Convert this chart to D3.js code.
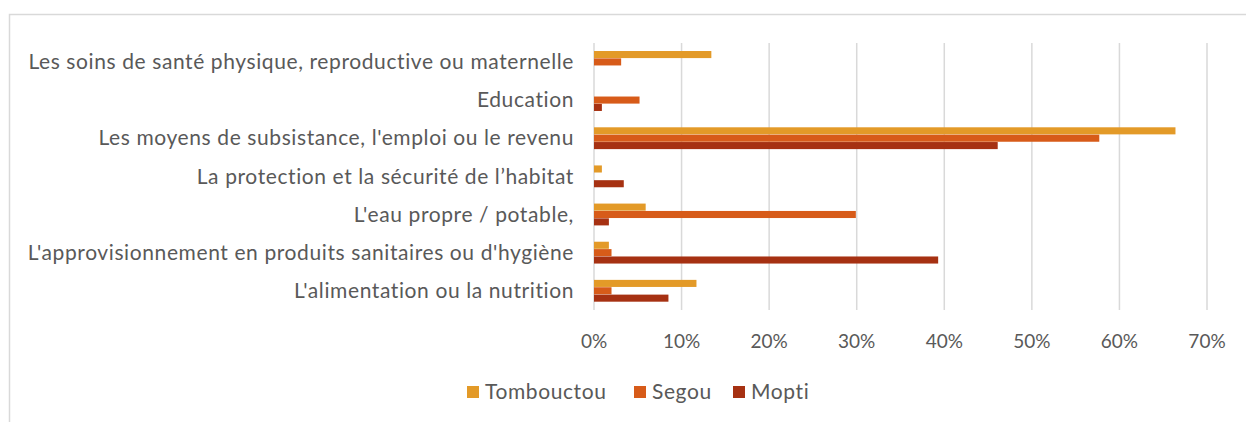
<!DOCTYPE html>
<html lang="fr">
<head>
<meta charset="utf-8">
<title>Besoins prioritaires</title>
<script src="https://cdn.jsdelivr.net/npm/d3@7"></script>
<style>
    body { margin: 0; background: #fff; }
    svg { display: block; }
    text { font-family: Lato, "Open Sans", sans-serif; fill: #595959; }
</style>
</head>
<body>
<div id="chart"></div>
<script>
    // categories, top to bottom
    var categories = [
        "Les soins de santé physique, reproductive ou maternelle",
        "Education",
        "Les moyens de subsistance, l'emploi ou le revenu",
        "La protection et la sécurité de l\u2019habitat",
        "L'eau propre / potable,",
        "L'approvisionnement en produits sanitaires ou d'hygiène",
        "L'alimentation ou la nutrition"
    ];
    var seriesNames = ["Tombouctou", "Segou", "Mopti"];
    var colors = ["#E39A28", "#D75B19", "#A63112"];

    // values in %, same order as categories
    var tombouctou = [13.4, 0, 66.4, 0.9, 5.9, 1.7, 11.7];
    var segou      = [3.1, 5.2, 57.7, 0, 29.9, 2.0, 2.0];
    var mopti      = [0, 0.9, 46.1, 3.4, 1.7, 39.3, 8.5];
    var values = [tombouctou, segou, mopti];

    var xTicks = [0, 10, 20, 30, 40, 50, 60, 70];

    var width = 1246, height = 422;

    var svg = d3.select("#chart").append("svg")
        .attr("width", width)
        .attr("height", height);

    // outer frame
    svg.append("rect")
        .attr("x", 9.5).attr("y", 14.5)
        .attr("width", width + 20).attr("height", height + 20)
        .style("fill", "none")
        .style("stroke", "#D9D9D9")
        .style("stroke-width", 1.5);

    var x = d3.scaleLinear().domain([0, 70]).range([594, 1207]);
    var y = d3.scaleBand().domain(categories).range([43, 310])
        .paddingInner(0.42).paddingOuter(0.21);
    var ySub = d3.scaleBand().domain(seriesNames).range([0, y.bandwidth()]);

    // gridlines
    svg.append("g").selectAll("line")
        .data(xTicks)
        .enter().append("line")
        .attr("x1", function(d) { return x(d); })
        .attr("x2", function(d) { return x(d); })
        .attr("y1", 43)
        .attr("y2", 310)
        .style("stroke", "#D9D9D9")
        .style("stroke-width", 1.5);

    // x tick labels
    svg.append("g").selectAll("text")
        .data(xTicks)
        .enter().append("text")
        .attr("x", function(d) { return x(d); })
        .attr("y", 348)
        .attr("text-anchor", "middle")
        .style("font-size", "19px")
        .text(function(d) { return d + "%"; });

    // category labels
    svg.append("g").selectAll("text")
        .data(categories)
        .enter().append("text")
        .attr("x", 574)
        .attr("y", function(d) { return y(d) + y.bandwidth() / 2 + 7; })
        .attr("text-anchor", "end")
        .style("font-size", "21px")
        .style("letter-spacing", "0.6px")
        .text(function(d) { return d; });

    // bars
    var groups = svg.append("g").selectAll("g")
        .data(seriesNames)
        .enter().append("g")
        .style("fill", function(d, i) { return colors[i]; });

    groups.selectAll("rect")
        .data(function(s, i) {
            return categories.map(function(c, j) { return { cat: c, series: s, value: values[i][j] }; });
        })
        .enter().append("rect")
        .attr("x", x(0))
        .attr("y", function(d) { return y(d.cat) + ySub(d.series); })
        .attr("width", function(d) { return x(d.value) - x(0); })
        .attr("height", ySub.bandwidth() - 0.3);

    // legend
    var legendX = [467, 634, 733];
    var legend = svg.append("g").selectAll("g")
        .data(seriesNames)
        .enter().append("g")
        .attr("transform", function(d, i) { return "translate(" + legendX[i] + ",386)"; });

    legend.append("rect")
        .attr("width", 12).attr("height", 12)
        .style("fill", function(d, i) { return colors[i]; });

    legend.append("text")
        .attr("x", 18)
        .attr("y", 13)
        .style("font-size", "21px")
        .style("letter-spacing", "0.6px")
        .text(function(d) { return d; });
</script>
</body>
</html>
